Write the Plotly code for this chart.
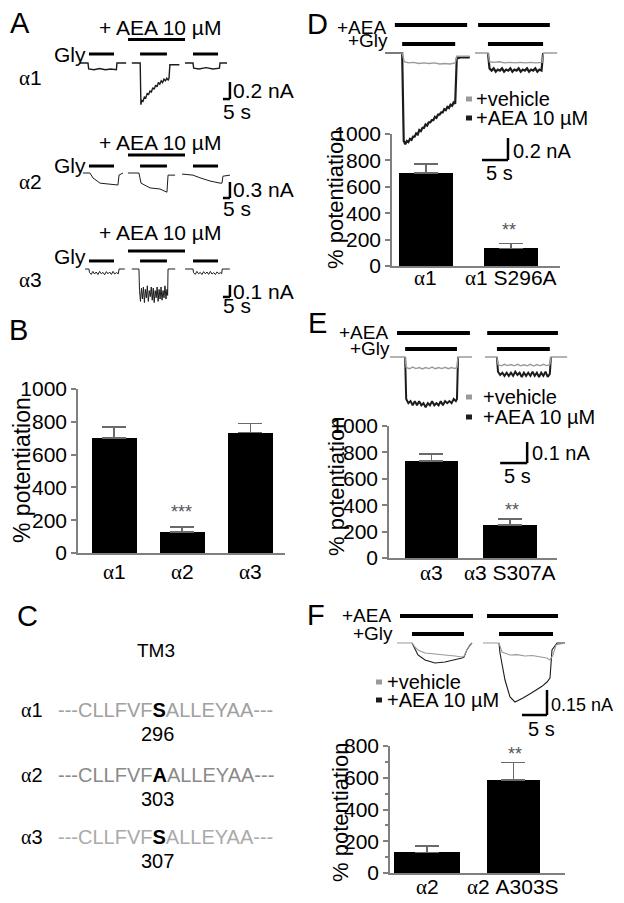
import plotly.graph_objects as go

# the page has an 8 px body margin, so the figure is drawn 8 px in from the top-left corner
OFF = 8
FW, FH = 624 - 2 * OFF, 903 - 2 * OFF
SANS = 'Liberation Sans, Arial, sans-serif'
NARROW = 'Liberation Sans Narrow, Arial Narrow, Liberation Sans, sans-serif'
GREY = '#9a9a9a'
DARK = '#1c1c1c'
AXIS = '#808080'

# ---------------- bar data (% potentiation, mean and SEM) ----------------
b_cat = ['α1', 'α2', 'α3']
b_mean = [700, 128, 734]
b_sem = [68, 32, 55]

d_cat = ['α1', 'α1 S296A']
d_mean = [704, 134]
d_sem = [69, 38]

e_cat = ['α3', 'α3 S307A']
e_mean = [735, 250]
e_sem = [53, 45]

f_cat = ['α2', 'α2 A303S']
f_mean = [130, 586]
f_sem = [40, 111]

# ---------------- current traces (time in s, current in nA) ----------------
# panel A, three sweeps each: Gly, Gly + AEA, Gly (wash)
a1_t = [0, 5.7, 6.2, 10, 14, 18, 22, 26, 26.4, 33, None,
        37, 43, 43.5, 44.2, 45, 46, 47, 48, 49, 50, 51, 52, 53, 54, 55, 56, 57, 58, 59, 60, 61, 62, 63, 63.6, 64.2, 71, None,
        75, 80.7, 81.2, 85, 90, 95, 99.6, 100, 105]
a1_i = [0, 0, -0.07, -0.08, -0.065, -0.08, -0.07, -0.08, 0, 0, None,
        0, 0, -0.49, -0.44, -0.45, -0.40, -0.41, -0.36, -0.37, -0.33, -0.34, -0.29, -0.31, -0.26, -0.28, -0.23, -0.25, -0.21, -0.23, -0.19, -0.21, -0.18, -0.2, -0.18, -0.02, -0.02, None,
        0, 0, -0.06, -0.07, -0.055, -0.07, -0.06, 0, 0]

a2_t = [2.1, 7.1, 9.3, 14.3, 21.4, 27.1, 27.9, 30.7, None,
        34.3, 42.1, 43.6, 50, 57.1, 62.1, 62.9, 67.9, None,
        72.9, 80.7, 85.7, 92.9, 100, 101.4, 102.1, 107.1]
a2_i = [0, 0, -0.094, -0.19, -0.21, -0.225, -0.038, 0, None,
        0, 0, -0.19, -0.28, -0.30, -0.36, -0.04, -0.04, None,
        -0.02, -0.04, -0.09, -0.15, -0.19, -0.19, -0.06, -0.04]

a3_t = [3.6, 6.4, 6.8, 8, 9.2, 10.4, 11.6, 12.8, 14, 15.2, 16.4, 17.6, 18.8, 20, 21.2, 22.4, 23.6, 24.8, 26, 27.4, 27.9, 32, None,
        37, 42.1, 42.5, 43.2, 43.9, 44.6, 45.3, 46, 46.7, 47.4, 48.1, 48.8, 49.5, 50.2, 50.9, 51.6, 52.3, 53, 53.7, 54.4,
        55.1, 55.8, 56.5, 57.2, 57.9, 58.6, 59.3, 60, 60.7, 61.4, 62.1, 62.6, 62.9, 68, None,
        75, 80.7, 81.1, 82.3, 83.5, 84.7, 85.9, 87.1, 88.3, 89.5, 90.7, 91.9, 93.1, 94.3, 95.5, 96.7, 97.9, 99.1, 100.3, 101.2, 101.6, 107]
a3_i = [0, 0, -0.03, -0.045, -0.02, -0.042, -0.025, -0.046, -0.02, -0.04, -0.028, -0.048, -0.022, -0.04, -0.025, -0.045, -0.02, -0.042, -0.03, -0.04, 0, 0, None,
        0, 0, -0.18, -0.27, -0.16, -0.25, -0.15, -0.28, -0.17, -0.24, -0.14, -0.27, -0.18, -0.23, -0.15, -0.26, -0.16, -0.28, -0.18, -0.24,
        -0.15, -0.27, -0.17, -0.25, -0.15, -0.26, -0.18, -0.24, -0.14, -0.25, -0.17, -0.22, 0, 0, None,
        0, 0, -0.03, -0.045, -0.02, -0.04, -0.028, -0.046, -0.022, -0.04, -0.025, -0.045, -0.02, -0.042, -0.03, -0.046, -0.024, -0.04, -0.03, -0.04, 0, 0]

# panel D: alpha1 (left) and alpha1 S296A (right)
d_veh_t = [0, 3.3, 3.7, 4.5, 5.5, 6.5, 7.5, 8.5, 9.5, 10.5, 11.5, 12.5, 13.5, 13.8, 16.3, None,
           17.3, 19.8, 20.1, 21, 22, 23, 24, 25, 26, 27, 28, 29, 30.2, 30.5, 33.1]
d_veh_i = [0, 0, -0.08, -0.09, -0.085, -0.095, -0.09, -0.095, -0.09, -0.1, -0.095, -0.1, -0.09, -0.03, -0.03, None,
           0, 0, -0.08, -0.085, -0.08, -0.09, -0.085, -0.09, -0.085, -0.09, -0.085, -0.09, -0.085, 0, 0]
d_aea_t = [0, 3.3, 3.6, 3.9, 4.2, 4.5, 4.8, 5.1, 5.4, 5.7, 6.0, 6.3, 6.6, 6.9, 7.2, 7.5, 7.8, 8.1, 8.4, 8.7, 9.0,
           9.3, 9.6, 9.9, 10.2, 10.5, 10.8, 11.1, 11.4, 11.7, 12.0, 12.3, 12.6, 12.9, 13.2, 13.5, 13.8, 14.5, 16.3, None,
           19.8, 20.1, 20.5, 20.9, 21.3, 21.7, 22.1, 22.5, 22.9, 23.3, 23.7, 24.1, 24.5, 24.9, 25.3, 25.7, 26.1, 26.5,
           26.9, 27.3, 27.7, 28.1, 28.5, 28.9, 29.3, 29.7, 30.1, 30.4]
d_aea_i = [0, 0, -0.8, -0.83, -0.8, -0.81, -0.78, -0.79, -0.76, -0.76, -0.73, -0.74, -0.7, -0.71, -0.68, -0.68, -0.65, -0.66, -0.63, -0.63, -0.61,
           -0.61, -0.58, -0.59, -0.56, -0.56, -0.54, -0.54, -0.51, -0.52, -0.49, -0.5, -0.47, -0.48, -0.45, -0.46, -0.05, -0.04, -0.04, None,
           0, -0.14, -0.16, -0.14, -0.17, -0.15, -0.16, -0.14, -0.17, -0.15, -0.16, -0.14, -0.17, -0.15, -0.16, -0.14, -0.17, -0.15,
           -0.16, -0.14, -0.17, -0.15, -0.16, -0.14, -0.17, -0.15, -0.16, 0]

# panel E: alpha3 (left) and alpha3 S307A (right)
e_veh_t = [0, 2.8, 3.0, 3.6, 4.2, 4.8, 5.4, 6.0, 6.6, 7.2, 7.8, 8.4, 9.0, 9.6, 10.2, 10.8, 11.4, 12.0, 12.4, 12.6, 15.2, None,
           17.6, 19.8, 20.0, 20.6, 21.2, 21.8, 22.4, 23.0, 23.6, 24.2, 24.8, 25.4, 26.0, 26.6, 27.2, 27.8, 28.4, 29.0, 29.6, 29.8, 32.8]
e_veh_i = [0, 0, -0.05, -0.056, -0.048, -0.055, -0.05, -0.057, -0.05, -0.055, -0.048, -0.056, -0.05, -0.055, -0.049, -0.056, -0.05, -0.055, -0.05, 0, 0, None,
           0, 0, -0.036, -0.042, -0.035, -0.041, -0.036, -0.042, -0.035, -0.042, -0.037, -0.042, -0.035, -0.043, -0.036, -0.042, -0.035, -0.041, -0.037, 0, 0]
e_aea_t = [2.8, 3.0, 3.4, 3.8, 4.2, 4.6, 5.0, 5.4, 5.8, 6.2, 6.6, 7.0, 7.4, 7.8, 8.2, 8.6, 9.0, 9.4, 9.8, 10.2, 10.6, 11.0, 11.4, 11.8, 12.2, 12.4, 12.6, None,
           19.8, 20.0, 20.4, 20.8, 21.2, 21.6, 22.0, 22.4, 22.8, 23.2, 23.6, 24.0, 24.4, 24.8, 25.2, 25.6, 26.0, 26.4, 26.8, 27.2, 27.6, 28.0, 28.4, 28.8, 29.2, 29.6, 29.8]
e_aea_i = [0, -0.2, -0.22, -0.21, -0.23, -0.21, -0.23, -0.21, -0.23, -0.22, -0.24, -0.22, -0.23, -0.21, -0.23, -0.22, -0.23, -0.21, -0.23, -0.21, -0.22, -0.21, -0.22, -0.2, -0.21, -0.2, 0, None,
           0, -0.07, -0.085, -0.075, -0.09, -0.075, -0.09, -0.075, -0.09, -0.07, -0.085, -0.075, -0.095, -0.075, -0.09, -0.075, -0.09, -0.07, -0.09, -0.075, -0.095, -0.075, -0.09, -0.07, -0.095, -0.08, 0]

# panel F: alpha2 (left) and alpha2 A303S (right)
f_veh_t = [0, 3, 3.6, 4.2, 5.6, 7, 8.6, 10, 11.6, 13, 13.4, 14, 14.6, 15, None,
           17.2, 20.4, 21, 22.6, 24, 25.6, 27, 28.6, 30, 30.6, 31.2, 31.8, 33.6]
f_veh_i = [0, 0, -0.025, -0.042, -0.06, -0.064, -0.066, -0.072, -0.078, -0.084, -0.08, -0.04, -0.012, 0, None,
           0, 0, -0.054, -0.072, -0.07, -0.078, -0.075, -0.084, -0.09, -0.102, -0.072, -0.012, 0]
f_aea_t = [3, 3.6, 4.2, 5.6, 7.6, 9.6, 11.6, 13, 13.4, 14, 14.6, 15, None,
           20.4, 20.6, 21.6, 22.6, 23.6, 25.2, 27.2, 29, 30, 30.6, 31, 32, 33.6]
f_aea_i = [0, -0.04, -0.072, -0.102, -0.12, -0.114, -0.102, -0.09, -0.085, -0.04, -0.012, 0, None,
           0, -0.06, -0.222, -0.324, -0.354, -0.33, -0.294, -0.26, -0.234, -0.21, -0.042, 0, 0]

# drug application windows (s)
a_gly = [(6.4, 24.3), (42.9, 62.1), (80.7, 98.6)]
a_aea = [(34.3, 75.0)]
d_gly = [(3.3, 13.5), (19.8, 30.4)]
d_aea = [(1.9, 15.8), (17.9, 31.7)]
e_gly = [(2.8, 12.4), (19.8, 29.6)]
e_aea = [(1.3, 14.8), (18.0, 31.1)]
f_gly = [(3.0, 13.4), (20.4, 31.2)]
f_aea = [(0.6, 15.2), (18.0, 32.2)]

fig = go.Figure()
axes = {}


def dx(x):
    return (x - OFF) / FW


def dy(y):
    return 1 - (y - OFF) / FH


def note(s, x, y, size=20, xa='center', ya='middle', color='black', angle=0, family=SANS, xref='paper'):
    fig.add_annotation(text=s, x=dx(x) if xref == 'paper' else x, y=dy(y), xref=xref, yref='paper',
                       xanchor=xa, yanchor=ya, showarrow=False, textangle=angle,
                       font=dict(size=size, color=color, family=family))


def alpha(n):
    return '<span style="font-family:Liberation Serif">α</span>' + n


def bar_axes(n, left, right, top, bottom, xr, yr, cats, label_y, minor=False):
    k = '' if n == 1 else str(n)
    axes['xaxis' + k] = dict(domain=[dx(left), dx(right)], range=xr, anchor='y' + k, showline=True,
                             linecolor=AXIS, linewidth=1.5, ticks='', showticklabels=False,
                             showgrid=False, zeroline=False, automargin=False)
    ya = dict(domain=[dy(bottom), dy(top)], range=yr, anchor='x' + k, showline=True,
              linecolor=AXIS, linewidth=1.5, ticks='outside', ticklen=5, tickwidth=1.5, tickcolor=AXIS,
              dtick=200, showgrid=False, zeroline=False, automargin=False,
              tickfont=dict(size=21, family=NARROW, color='black'))
    if minor:
        ya['minor'] = dict(ticks='outside', ticklen=3, tickcolor=AXIS, dtick=100, showgrid=False)
    axes['yaxis' + k] = ya
    # category labels under the bars, placed on the category axis
    for j, c in enumerate(cats):
        note(alpha(c[1:]), j, label_y, size=21, xref='x' + k)


def trace_axes(n, box, cal):
    left, top, right, bottom = box
    t0, base, ps, pa = cal
    k = str(n)
    axes['xaxis' + k] = dict(domain=[dx(left), dx(right)], range=[(left - t0) / ps, (right - t0) / ps],
                             anchor='y' + k, visible=False, automargin=False)
    axes['yaxis' + k] = dict(domain=[dy(bottom), dy(top)], range=[(base - bottom) / pa, (base - top) / pa],
                             anchor='x' + k, visible=False, automargin=False)


def bars(n, mean, sem, widths):
    k = '' if n == 1 else str(n)
    fig.add_trace(go.Bar(x=list(range(len(mean))), y=mean, width=widths, marker=dict(color='black', line_width=0),
                         error_y=dict(type='data', array=sem, arrayminus=[0] * len(sem), symmetric=False,
                                      color='#6a6a6a', thickness=1.5, width=12),
                         xaxis='x' + k, yaxis='y' + k, showlegend=False))


def line(n, t, i, color, width=1.1):
    fig.add_trace(go.Scatter(x=t, y=i, mode='lines', line=dict(color=color, width=width),
                             xaxis='x' + str(n), yaxis='y' + str(n), showlegend=False))


def app_bars(n, windows, level, width=3.5):
    for on, off in windows:
        fig.add_shape(type='line', xref='x' + str(n), yref='y' + str(n), x0=on, x1=off, y0=level, y1=level,
                      line=dict(color='black', width=width))


def scale_bar(n, t, i, dt, di):
    for x0, x1, y0, y1 in [(t, t, i, i + di), (t - dt, t, i, i)]:
        fig.add_shape(type='line', xref='x' + str(n), yref='y' + str(n), x0=x0, x1=x1, y0=y0, y1=y1,
                      line=dict(color='black', width=2.5))


def key(x, y, color):
    fig.add_shape(type='rect', xref='paper', yref='paper', x0=dx(x), x1=dx(x + 6), y0=dy(y + 2.5), y1=dy(y - 2.5),
                  fillcolor=color, line_width=0)


# ---------------- bar charts ----------------
bar_axes(1, 78, 285, 389, 553, [-0.53, 2.51], [0, 1000], b_cat, 572)
bar_axes(2, 392, 560, 134, 266, [-0.4, 1.58], [0, 1000], d_cat, 278)
bar_axes(3, 389, 557, 426, 558, [-0.54, 1.6], [0, 1000], e_cat, 573)
bar_axes(4, 390, 565, 746, 873, [-0.43, 1.6], [0, 800], f_cat, 887, minor=True)
bars(1, b_mean, b_sem, 0.66)
bars(2, d_mean, d_sem, 0.64)
bars(3, e_mean, e_sem, 0.68)
bars(4, f_mean, f_sem, [0.76, 0.61])

# ---------------- current traces ----------------
trace_axes(5, (60, 8, 320, 130), (80, 63, 1.4, 85))
trace_axes(6, (60, 130, 320, 225), (80, 173, 1.4, 53.3))
trace_axes(7, (60, 225, 320, 320), (80, 269, 1.4, 120))
trace_axes(8, (380, 8, 616, 180), (385, 53, 5.2, 110))
trace_axes(9, (380, 300, 616, 480), (390, 357, 5.4, 210))
trace_axes(10, (380, 595, 616, 740), (397, 643, 5.0, 166.7))

line(5, a1_t, a1_i, DARK, 1.4)
line(6, a2_t, a2_i, DARK, 1.0)
line(7, a3_t, a3_i, DARK, 1.0)
line(8, d_aea_t, d_aea_i, DARK, 2.2)
line(8, d_veh_t, d_veh_i, GREY, 1.4)
line(9, e_aea_t, e_aea_i, DARK, 2.0)
line(9, e_veh_t, e_veh_i, GREY, 1.4)
line(10, f_aea_t, f_aea_i, DARK)
line(10, f_veh_t, f_veh_i, GREY)

app_bars(5, a_gly, 0.106, 3)
app_bars(5, a_aea, 0.276, 3)
app_bars(6, a_gly, 0.131, 3)
app_bars(6, a_aea, 0.338, 3)
app_bars(7, a_gly, 0.067, 3)
app_bars(7, a_aea, 0.15, 3)
app_bars(8, d_gly, 0.082, 4)
app_bars(8, d_aea, 0.255, 4)
app_bars(9, e_gly, 0.038, 4)
app_bars(9, e_aea, 0.114, 4)
app_bars(10, f_gly, 0.054, 4)
app_bars(10, f_aea, 0.162, 4)

scale_bar(5, 107.1, -0.424, 5, 0.2)
scale_bar(6, 107.1, -0.469, 5, 0.3)
scale_bar(7, 107.1, -0.233, 5, 0.1)
scale_bar(8, 23.65, -0.973, 5, 0.2)
scale_bar(9, 25.4, -0.505, 5, 0.1)
scale_bar(10, 30.0, -0.432, 5, 0.15)

# ---------------- text ----------------
for s, x, y in [('A', 20, 23), ('B', 18, 330), ('C', 27, 616), ('D', 317, 24), ('E', 318, 323), ('F', 316, 615)]:
    note(s, x, y, size=29)

# panel A labels
for n, y_aea, y_gly, y_row in [('1', 27, 55, 78), ('2', 142, 165, 182), ('3', 233, 256, 280)]:
    note('+ AEA 10 µM', 160, y_aea, size=21)
    note('Gly', 88, y_gly, size=21, xa='right')
    note(alpha(n), 30, y_row, size=21)
note('0.2 nA', 231, 90, size=21, xa='left')
note('5 s', 221, 112, size=21, xa='left')
note('0.3 nA', 231, 190, size=21, xa='left')
note('5 s', 221, 209, size=21, xa='left')
note('0.1 nA', 231, 291, size=21, xa='left')
note('5 s', 221, 305, size=21, xa='left')

# y axis titles and significance marks
note('% potentiation', 22, 470, size=23, angle=-90)
for x, y in [(335, 200), (336, 487), (340, 813)]:
    note('% potentiation', x, y, size=22, angle=-90)
note('***', 182, 512, size=18, color='#555555')
note('**', 509, 230, size=18, color='#555555')
note('**', 512, 510, size=18, color='#555555')
note('**', 515, 754, size=18, color='#555555')

# panels D-F labels
for x, ya, yg in [(388, 27, 41), (390, 332, 348), (393, 615, 633)]:
    note('+AEA', x, ya, size=19, xa='right')
    note('+Gly', x + 2, yg, size=19, xa='right')
for kx, tx, yv, yb in [(466, 474, 99, 118), (466, 481, 397, 417), (376, 385, 682, 700)]:
    key(kx, yv, GREY)
    key(kx, yb, DARK)
    note('+vehicle', tx, yv, size=20, xa='left')
    note('+AEA 10 µM', tx, yb, size=20, xa='left')
note('0.2 nA', 511, 151, size=20, xa='left')
note('5 s', 484, 173, size=20, xa='left')
note('0.1 nA', 530, 453, size=20, xa='left')
note('5 s', 502, 476, size=20, xa='left')
note('0.15 nA', 549, 705, size=18, xa='left')
note('5 s', 526, 729, size=20, xa='left')

# panel C sequence alignment
note('TM3', 156, 650, size=19)
for n, y, num, res, col in [('1', 710, '296', 'S', '#a0a0a0'), ('2', 775, '303', 'A', '#8a8a8a'), ('3', 837, '307', 'S', '#aaaaaa')]:
    note(alpha(n), 32, y, size=20)
    seq = ('<span style="color:%s">---CLLFVF</span><b>%s</b><span style="color:%s">ALLEYAA---</span>'
           % (col, res, col))
    note(seq, 56, y, size=20, xa='left')
    note(num, 157, y + 24, size=20)

fig.update_layout(width=FW, height=FH, margin=dict(l=0, r=0, t=0, b=0, pad=0, autoexpand=False),
                  paper_bgcolor='white', plot_bgcolor='rgba(0,0,0,0)', font=dict(family=SANS, color='black'),
                  showlegend=False, bargap=0, **axes)

fig.write_html("out.html")
